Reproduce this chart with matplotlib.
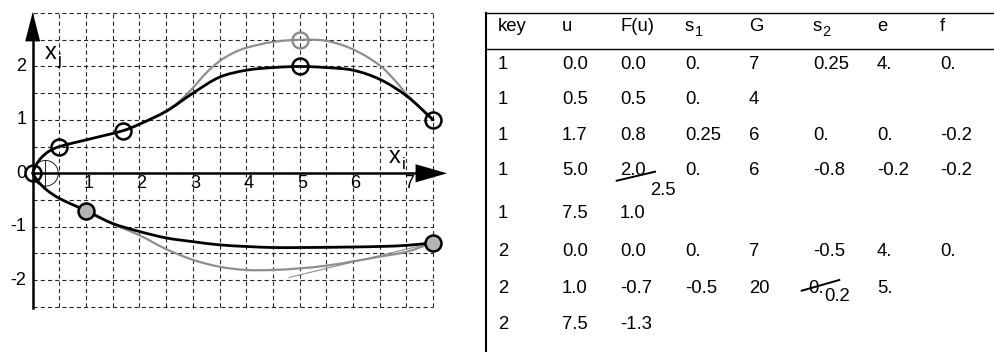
import numpy as np
import matplotlib
matplotlib.use("Agg")
import matplotlib.pyplot as plt
from matplotlib.path import Path
from matplotlib.patches import PathPatch, Circle, Polygon

plt.rcParams["font.family"] = ["Liberation Sans", "DejaVu Sans"]
plt.rcParams["lines.scale_dashes"] = False

# -------- spline key table --------
key = [1, 1, 1, 1, 1, 2, 2, 2]
u = [0.0, 0.5, 1.7, 5.0, 7.5, 0.0, 1.0, 7.5]
F = [0.0, 0.5, 0.8, 2.0, 1.0, 0.0, -0.7, -1.3]
s1 = ["0.", "0.", "0.25", "0.", "", "0.", "-0.5", ""]
G = ["7", "4", "6", "6", "", "7", "20", ""]
s2 = ["0.25", "", "0.", "-0.8", "", "-0.5", "0.", ""]
e = ["4.", "", "0.", "-0.2", "", "4.", "5.", ""]
f = ["0.", "", "-0.2", "-0.2", "", "0.", "", ""]
# hand edits written over the table
F_edit_row, F_edit = 3, 2.5
s2_edit_row, s2_edit = 6, "0.2"

# -------- sampled curve shapes --------
upper_x = [0.0, 0.06, 0.15, 0.3, 0.5, 1.1, 1.7, 2.0, 2.5, 3.0, 3.5, 4.0, 4.5,
           5.0, 5.5, 6.0, 6.5, 7.0, 7.5]
upper_y = [0.0, 0.15, 0.28, 0.41, 0.5, 0.65, 0.8, 0.92, 1.16, 1.50, 1.80, 1.93,
           1.98, 2.0, 1.98, 1.93, 1.76, 1.45, 1.0]
upper_edit_x = [1.7, 2.0, 2.5, 2.75, 3.0, 3.25, 3.5, 3.75, 4.0, 4.5, 5.0, 5.5,
                6.0, 6.5, 6.8, 7.03, 7.5]
upper_edit_y = [0.8, 0.92, 1.17, 1.35, 1.6, 1.88, 2.1, 2.25, 2.35, 2.46, 2.5,
                2.48, 2.32, 2.02, 1.72, 1.45, 1.0]
lower_x = [0.0, 0.1, 0.26, 0.5, 1.0, 1.5, 2.0, 2.5, 3.0, 3.5, 4.0, 4.5, 5.0,
           6.0, 6.5, 7.0, 7.5]
lower_y = [0.0, -0.15, -0.31, -0.47, -0.7, -0.94, -1.09, -1.21, -1.28, -1.34,
           -1.37, -1.39, -1.39, -1.38, -1.37, -1.35, -1.3]
lower_edit_x = [1.0, 1.5, 2.0, 2.5, 3.0, 3.5, 4.0, 4.5, 5.0, 5.5, 6.0, 6.5,
                7.0, 7.5]
lower_edit_y = [-0.7, -0.95, -1.16, -1.42, -1.62, -1.75, -1.81, -1.81, -1.78,
                -1.73, -1.65, -1.56, -1.47, -1.3]
tangent_x = [4.8, 7.5]
tangent_y = [-1.95, -1.3]

x_ticks = [1, 2, 3, 4, 5, 6, 7]
y_ticks = [2, 1, 0, -1, -2]

GRAY = "#8e8e8e"
FILL = "#b4b4b4"


def smooth_path(xs, ys):
    """Chord-length Catmull-Rom through the points, as cubic Bezier segments."""
    p = np.column_stack([xs, ys]).astype(float)
    t = np.concatenate([[0], np.cumsum(np.hypot(*np.diff(p, axis=0).T))])
    m = np.zeros_like(p)
    m[0] = (p[1] - p[0]) / (t[1] - t[0])
    m[-1] = (p[-1] - p[-2]) / (t[-1] - t[-2])
    for i in range(1, len(p) - 1):
        m[i] = (p[i + 1] - p[i - 1]) / (t[i + 1] - t[i - 1])
    verts, codes = [p[0]], [Path.MOVETO]
    for i in range(len(p) - 1):
        dt = t[i + 1] - t[i]
        verts += [p[i] + m[i] * dt / 3, p[i + 1] - m[i + 1] * dt / 3, p[i + 1]]
        codes += [Path.CURVE4] * 3
    return Path(verts, codes)


fig = plt.figure(figsize=(9.94, 3.52), dpi=100)

# -------- left: curve sketch --------
ax = fig.add_axes([0, 0, 460 / 994, 1])
ax.set_xlim(-0.612, 8.002)
ax.set_ylim(-3.346, 3.245)
ax.axis("off")

gx = np.arange(0, 7.51, 0.5)
gy = np.arange(-2.5, 3.01, 0.5)
ax.vlines(gx, -2.5, 3.0, colors="#262626", lw=0.8, linestyles=(0, (3, 2.2)), zorder=1)
ax.hlines(gy, 0, 7.5, colors="#262626", lw=0.8, linestyles=(0, (3, 2.2)), zorder=1)

for xs, ys in [(upper_edit_x, upper_edit_y), (lower_edit_x, lower_edit_y)]:
    ax.add_patch(PathPatch(smooth_path(xs, ys), fc="none", ec=GRAY, lw=1.6, zorder=2))
ax.plot(tangent_x, tangent_y, color=GRAY, lw=0.8, zorder=2)
for xs, ys in [(upper_x, upper_y), (lower_x, lower_y)]:
    ax.add_patch(PathPatch(smooth_path(xs, ys), fc="none", ec="black", lw=2.0,
                           capstyle="round", zorder=3))

# axes with arrow heads
ax.plot([0, 0], [-2.52, 2.5], color="black", lw=1.8, zorder=4)
ax.add_patch(Polygon([[0, 3.02], [-0.14, 2.47], [0.14, 2.47]], closed=True,
                     fc="black", ec="none", zorder=4))
ax.plot([0, 7.2], [0, 0], color="black", lw=1.8, zorder=4)
ax.add_patch(Polygon([[7.76, 0], [7.17, 0.17], [7.17, -0.17]], closed=True,
                     fc="black", ec="none", zorder=4))

# small tangent-angle circle at the start
ax.add_patch(Circle((0.24, 0), 0.24, fc="none", ec="black", lw=0.6, zorder=4))
ax.plot([0.24, 0.24], [-0.24, 0.24], color="black", lw=0.6, zorder=4)

for xt in x_ticks:
    ax.text(xt + 0.04, -0.03, str(xt), ha="center", va="top", fontsize=13, zorder=5)
for yt in y_ticks:
    ax.text(-0.12, yt, str(yt), ha="right", va="center", fontsize=13, zorder=3)

ax.text(0.22, 2.26, "x", ha="left", va="center", fontsize=17, zorder=5)
ax.text(0.47, 2.12, "j", ha="left", va="center", fontsize=12, zorder=5)
ax.text(6.66, 0.3, "x", ha="left", va="center", fontsize=17, zorder=5)
ax.text(6.91, 0.17, "i", ha="left", va="center", fontsize=12, zorder=5)

# key markers straight from the table
k1 = [i for i, k in enumerate(key) if k == 1]
k2 = [i for i, k in enumerate(key) if k == 2 and u[i] > 0]
ax.plot([u[i] for i in k1], [F[i] for i in k1], "o", ms=11.5, mfc="none",
        mec="black", mew=1.8, zorder=6)
ax.plot([u[F_edit_row]], [F_edit], "o", ms=11.5, mfc="none", mec=GRAY,
        mew=1.8, zorder=6)
ax.plot([u[i] for i in k2], [F[i] for i in k2], "o", ms=11.5, mfc=FILL,
        mec="black", mew=1.8, zorder=6)

# -------- right: key table --------
tb = fig.add_axes([0, 0, 1, 1])
tb.set_xlim(0, 994)
tb.set_ylim(352, 0)
tb.axis("off")

FS = 13.3
col_x = [498, 562, 620, 685, 749, 813, 877, 940]
head_y = 31
row_y = [69, 103.5, 139.5, 175, 218, 256, 292.7, 329.3]

tb.plot([486, 994], [12.7, 12.7], color="black", lw=1.0)
tb.plot([486, 994], [49.3, 49.3], color="black", lw=1.0)
tb.plot([486, 486], [12.7, 352], color="black", lw=1.5)

for name, x in zip(["key", "u", "F(u)", "", "G", "", "e", "f"], col_x):
    tb.text(x, head_y, name, fontsize=FS, va="baseline")
for x, sub in [(col_x[3], "1"), (col_x[5], "2")]:
    tb.text(x, head_y, "s", fontsize=FS, va="baseline")
    tb.text(x + 9.5, head_y + 4.5, sub, fontsize=10.5, va="baseline")

columns = [[str(k) for k in key], [f"{v:.1f}" for v in u],
           [f"{v:.1f}" for v in F], s1, G, s2, e, f]
for ci, (x, col) in enumerate(zip(col_x, columns)):
    for ri, (y, val) in enumerate(zip(row_y, col)):
        if val:
            dx = -5 if (ci == 5 and ri == s2_edit_row) else 0
            tb.text(x + dx, y, val, fontsize=FS, va="baseline")

# struck-out entries with their replacements
tb.plot([616.7, 655], [180.7, 171.7], color="black", lw=1.4)
tb.text(650, 195, f"{F_edit:.1f}", fontsize=FS, va="baseline")
tb.plot([801.7, 839.3], [290.7, 280], color="black", lw=1.4)
tb.text(824, 301, s2_edit, fontsize=FS, va="baseline")

fig.savefig("out.png", dpi=100)
